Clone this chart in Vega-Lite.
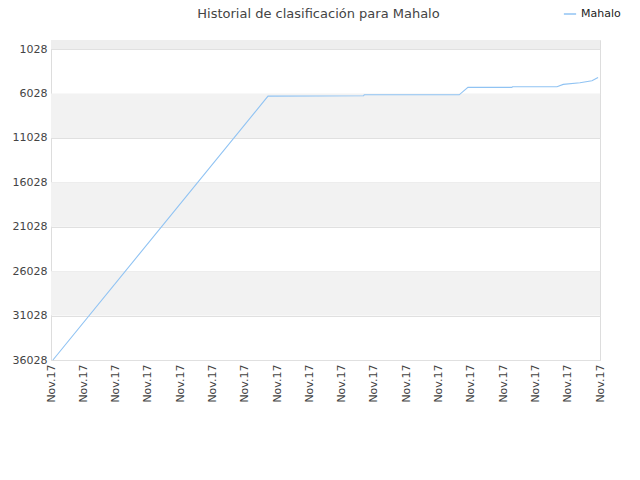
{
  "$schema": "https://vega.github.io/schema/vega-lite/v6.json",
  "width": 549,
  "height": 320,
  "autosize": {"type": "none"},
  "padding": {"left": 51, "top": 40, "right": 40, "bottom": 120},
  "background": "white",
  "config": {
    "font": "DejaVu Sans",
    "view": {"stroke": "#dddddd", "strokeWidth": 1}
  },
  "title": {
    "text": "Historial de clasificación para Mahalo",
    "fontSize": 13,
    "fontWeight": "normal",
    "color": "#444444",
    "anchor": "middle",
    "frame": "group",
    "dx": -7,
    "offset": -14
  },
  "datasets": {
    "bands": [
      {"top": 1, "bottom": 1028, "shade": "a"},
      {"top": 6028, "bottom": 11028, "shade": "b"},
      {"top": 16028, "bottom": 21028, "shade": "b"},
      {"top": 26028, "bottom": 31028, "shade": "b"}
    ],
    "rank": [
      {"t": 0.06, "pos": 36028, "name": "Mahalo"},
      {"t": 6.72, "pos": 6317, "name": "Mahalo"},
      {"t": 9.68, "pos": 6284, "name": "Mahalo"},
      {"t": 9.7, "pos": 6171, "name": "Mahalo"},
      {"t": 12.64, "pos": 6171, "name": "Mahalo"},
      {"t": 12.91, "pos": 5338, "name": "Mahalo"},
      {"t": 14.27, "pos": 5338, "name": "Mahalo"},
      {"t": 14.29, "pos": 5271, "name": "Mahalo"},
      {"t": 15.67, "pos": 5271, "name": "Mahalo"},
      {"t": 15.86, "pos": 5001, "name": "Mahalo"},
      {"t": 16.38, "pos": 4821, "name": "Mahalo"},
      {"t": 16.75, "pos": 4596, "name": "Mahalo"},
      {"t": 16.94, "pos": 4213, "name": "Mahalo"}
    ]
  },
  "layer": [
    {
      "data": {"name": "bands"},
      "mark": {"type": "rect"},
      "encoding": {
        "y": {
          "field": "top",
          "type": "quantitative",
          "scale": {"domain": [1, 36028], "reverse": true, "nice": false, "zero": false},
          "axis": {
            "values": [1028, 6028, 11028, 16028, 21028, 26028, 31028, 36028],
            "format": "d",
            "labelFontSize": 11,
            "labelColor": "#444444",
            "labelPadding": 4,
            "ticks": false,
            "domain": false,
            "grid": true,
            "gridColor": "#e0e0e0",
            "title": null
          }
        },
        "y2": {"field": "bottom"},
        "color": {"field": "shade", "type": "nominal", "scale": {"domain": ["a", "b"], "range": ["#eeeeee", "#f2f2f2"]}, "legend": null}
      }
    },
    {
      "data": {"name": "rank"},
      "mark": {"type": "line", "strokeWidth": 1.1, "interpolate": "linear"},
      "encoding": {
        "x": {
          "field": "t",
          "type": "quantitative",
          "scale": {"domain": [0, 17], "nice": false, "zero": false},
          "axis": {
            "values": [0, 1, 2, 3, 4, 5, 6, 7, 8, 9, 10, 11, 12, 13, 14, 15, 16, 17],
            "labelExpr": "'Nov.17'",
            "labelAngle": -90,
            "labelFontSize": 11,
            "labelColor": "#444444",
            "labelPadding": 4,
            "ticks": false,
            "domain": false,
            "grid": false,
            "title": null
          }
        },
        "y": {
          "field": "pos",
          "type": "quantitative",
          "scale": {"domain": [1, 36028], "reverse": true, "nice": false, "zero": false}
        },
        "stroke": {
          "field": "name",
          "type": "nominal",
          "scale": {"range": ["#90c3f3"]},
          "legend": {
            "orient": "none",
            "legendX": 512,
            "legendY": -33,
            "title": null,
            "symbolType": "stroke",
            "symbolSize": 150,
            "symbolStrokeWidth": 1.5,
            "labelFontSize": 11,
            "labelColor": "#222222"
          }
        }
      }
    }
  ]
}
